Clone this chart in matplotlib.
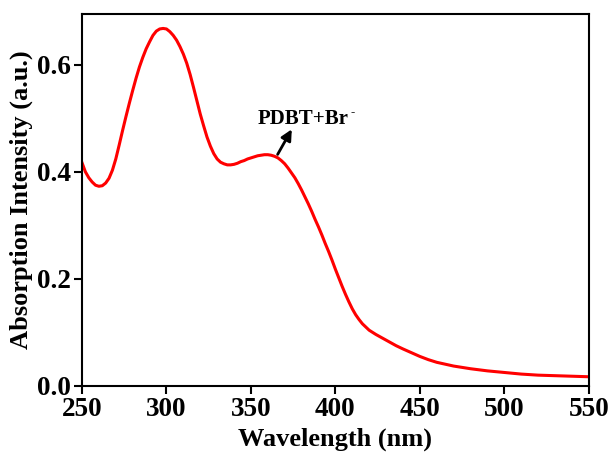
import matplotlib
matplotlib.use("Agg")
import matplotlib.pyplot as plt

wavelength = [250, 252, 254, 256, 258, 260, 262, 264, 266, 268, 270, 272, 274, 276, 278,
              280, 282, 284, 286, 288, 290, 292, 294, 296, 298, 300, 302, 304, 306, 308,
              310, 312, 314, 316, 318, 320, 322, 324, 326, 328, 330, 332, 334, 336, 338,
              340, 342, 344, 346, 348, 350, 352, 354, 356, 358, 360, 362, 364, 366, 368,
              370, 372, 374, 376, 378, 380, 382, 384, 386, 388, 390, 392, 394, 396, 398,
              400, 402, 404, 406, 408, 410, 412, 414, 416, 418, 420, 424, 428, 432, 436,
              440, 445, 450, 455, 460, 470, 480, 490, 500, 510, 520, 530, 540, 550]
absorbance = [0.417, 0.400, 0.389, 0.381, 0.375, 0.373, 0.374, 0.379, 0.388, 0.403,
              0.424, 0.450, 0.477, 0.503, 0.528, 0.552, 0.575, 0.596, 0.614, 0.630,
              0.643, 0.655, 0.663, 0.667, 0.668, 0.667, 0.662, 0.655, 0.646, 0.634,
              0.620, 0.603, 0.582, 0.558, 0.533, 0.508, 0.486, 0.465, 0.448, 0.434,
              0.424, 0.418, 0.415, 0.413, 0.413, 0.414, 0.416, 0.419, 0.421, 0.424,
              0.426, 0.428, 0.430, 0.431, 0.432, 0.432, 0.431, 0.429, 0.426, 0.421,
              0.415, 0.407, 0.398, 0.389, 0.378, 0.366, 0.353, 0.340, 0.326, 0.311,
              0.297, 0.282, 0.266, 0.251, 0.235, 0.218, 0.202, 0.186, 0.171, 0.157,
              0.144, 0.133, 0.124, 0.116, 0.110, 0.104, 0.096, 0.089, 0.082, 0.075,
              0.069, 0.062, 0.055, 0.049, 0.044, 0.037, 0.032, 0.028, 0.025, 0.022,
              0.020, 0.019, 0.018, 0.017]
xticks = [250, 300, 350, 400, 450, 500, 550]
yticks = [0.0, 0.2, 0.4, 0.6]
label_text = "PDBT+Br"
label_sup = "-"

plt.rcParams['font.family'] = ['Liberation Serif', 'DejaVu Serif']

fig = plt.figure(figsize=(6.12, 4.66), dpi=100)
ax = fig.add_axes([0.134, 0.172, 0.828, 0.798])
ax.plot(wavelength, absorbance, color='#ff0000', lw=2.2, solid_joinstyle='round')
ax.set_xlim(250, 550)
ax.set_ylim(0, 0.695)
ax.set_xticks(xticks)
ax.set_yticks(yticks)
ax.set_yticklabels([f"{v:.1f}" for v in yticks])
for s in ax.spines.values():
    s.set_linewidth(1.5)
ax.tick_params(direction='out', length=6, width=1.5, labelsize=19.5, pad=2)
for lab in ax.get_xticklabels() + ax.get_yticklabels():
    lab.set_fontweight('bold')
ax.set_xlabel('Wavelength (nm)', fontsize=19, fontweight='bold', labelpad=4)
ax.set_ylabel('Absorption Intensity (a.u.)', fontsize=19, fontweight='bold', labelpad=3)

ax.annotate('', xy=(375, 0.484), xytext=(365, 0.428),
            arrowprops=dict(arrowstyle='-|>', lw=2, color='black', mutation_scale=16))
t = ax.text(354, 0.489, label_text, fontsize=15, fontweight='bold', ha='left', va='baseline')
ax.annotate(label_sup, xy=(1.0, 1.0), xycoords=t, xytext=(1, 2), textcoords='offset points',
            fontsize=9, fontweight='bold', ha='left', va='top')

fig.savefig('out.png', dpi=100, facecolor='white')
